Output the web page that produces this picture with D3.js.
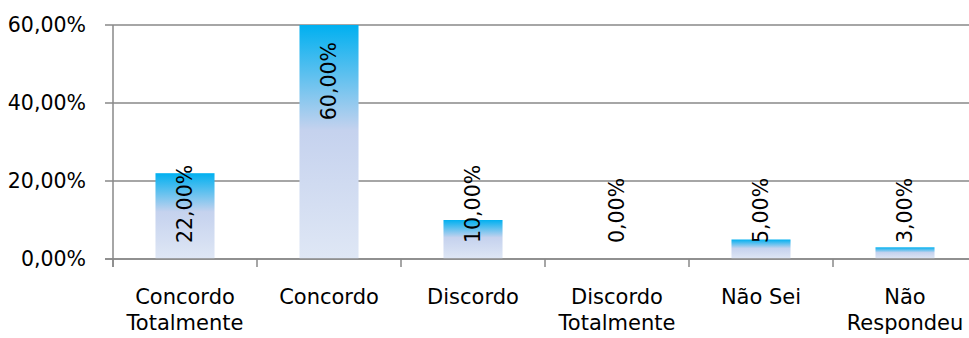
<!DOCTYPE html>
<html><head><meta charset="utf-8">
<script src="https://cdn.jsdelivr.net/npm/d3@7"></script>
<style>body{margin:0;background:#fff}svg{display:block}text{font-family:"DejaVu Sans",sans-serif}</style>
</head><body>
<script>
const categories = ["Concordo Totalmente","Concordo","Discordo","Discordo Totalmente","Não Sei","Não Respondeu"];
const categoryLines = [["Concordo","Totalmente"],["Concordo"],["Discordo"],["Discordo","Totalmente"],["Não Sei"],["Não","Respondeu"]];
const values = [22, 60, 10, 0, 5, 3];
const yTicks = [0, 20, 40, 60];

const W = 969, H = 338;
const svg = d3.select("body").append("svg").attr("width", W).attr("height", H);
const x0 = 113, x1 = 977, yTop = 25, yBot = 259;
const x = d3.scaleBand().domain(categories).range([x0, x1]).paddingInner(0.59).paddingOuter(0.295);
const y = d3.scaleLinear().domain([0, 60]).range([yBot, yTop]);
const fmt = v => v.toFixed(2).replace(".", ",") + "%";

const defs = svg.append("defs");
const g = defs.append("linearGradient").attr("id","bg").attr("x1",0).attr("y1",0).attr("x2",0).attr("y2",1);
g.append("stop").attr("offset","0").attr("stop-color","#00B0F0");
g.append("stop").attr("offset","0.45").attr("stop-color","#C5D2EE");
g.append("stop").attr("offset","1").attr("stop-color","#DFE7F5");

// gridlines
svg.append("g").selectAll("line").data(yTicks).join("line")
  .attr("x1", 105).attr("x2", W).attr("y1", d => y(d)).attr("y2", d => y(d))
  .attr("stroke", "#888888").attr("stroke-width", 1.5);

// y axis labels
svg.append("g").selectAll("text").data(yTicks).join("text")
  .attr("x", 86).attr("y", d => y(d) + 7).attr("text-anchor","end")
  .attr("font-size", 20.5).attr("fill","#000").text(d => fmt(d));

// bars
svg.append("g").selectAll("rect").data(values.map((v,i)=>({v,c:categories[i]}))).join("rect")
  .attr("x", d => x(d.c)).attr("width", x.bandwidth())
  .attr("y", d => y(d.v)).attr("height", d => yBot - y(d.v))
  .attr("fill", "url(#bg)");

// axes lines
svg.append("line").attr("x1", x0).attr("x2", x0).attr("y1", yTop).attr("y2", yBot + 8)
  .attr("stroke","#888888").attr("stroke-width",1.5);
svg.append("line").attr("x1", 105).attr("x2", W).attr("y1", yBot).attr("y2", yBot)
  .attr("stroke","#888888").attr("stroke-width",1.5);
const step = x.step();
svg.append("g").selectAll("line").data(d3.range(categories.length)).join("line")
  .attr("x1", i => x0 + i*step).attr("x2", i => x0 + i*step)
  .attr("y1", yBot).attr("y2", yBot + 8).attr("stroke","#888888").attr("stroke-width",1.5);

// bar labels
const lbl = svg.append("g").selectAll("text").data(values.map((v,i)=>({v,c:categories[i]}))).join("text")
  .attr("font-size", 20.5).attr("fill","#000").attr("text-anchor","start").text(d => fmt(d.v));
lbl.each(function(d){
  const len = this.getComputedTextLength();
  const bottom = Math.min(243, y(d.v) + 17 + len);
  const cx = x(d.c) + x.bandwidth()/2 + 7;
  d3.select(this).attr("transform", `translate(${cx},${bottom}) rotate(-90)`);
});

// category labels
const cl = svg.append("g").selectAll("text").data(categories).join("text")
  .attr("text-anchor","middle").attr("font-size", 21).attr("fill","#000")
  .attr("x", d => x(d) + x.bandwidth()/2);
cl.each(function(d,i){
  const t = d3.select(this);
  categoryLines[i].forEach((ln,j)=>{
    t.append("tspan").attr("x", x(d) + x.bandwidth()/2).attr("y", 304 + j*26).text(ln);
  });
});
</script>
</body></html>
